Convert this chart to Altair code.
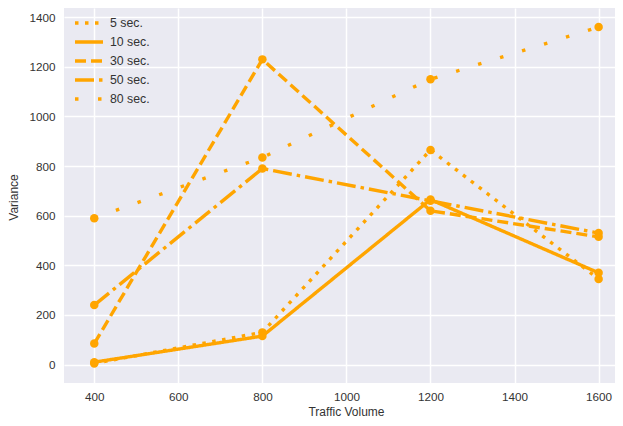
import altair as alt
import pandas as pd

volumes = [400, 800, 1200, 1600]
series = ["5 sec.", "10 sec.", "30 sec.", "50 sec.", "80 sec."]
v5 = [5, 130, 865, 345]
v10 = [10, 115, 665, 370]
v30 = [85, 1230, 620, 515]
v50 = [240, 790, 660, 530]
v80 = [590, 835, 1150, 1360]
dashes = [[3.5, 6.5], [1, 0], [11, 5], [19, 5, 3.5, 5], [3.5, 19.5]]

rows = []
for name, vals in zip(series, [v5, v10, v30, v50, v80]):
    for x, y in zip(volumes, vals):
        rows.append({"Traffic Volume": x, "Variance": y, "series": name})
df = pd.DataFrame(rows)

ORANGE = "#FFA500"
FONT = "Liberation Sans"

x = alt.X("Traffic Volume:Q",
          scale=alt.Scale(domain=[328, 1639], nice=False, zero=False),
          axis=alt.Axis(values=[400, 600, 800, 1000, 1200, 1400, 1600], format="d",
                        title="Traffic Volume", titleX=282, titleY=28,
                        titleBaseline="middle"))
y = alt.Y("Variance:Q",
          scale=alt.Scale(domain=[-74, 1437], nice=False, zero=False),
          axis=alt.Axis(values=[0, 200, 400, 600, 800, 1000, 1200, 1400], format="d",
                        title="Variance", titleX=-51, titleY=189,
                        titleBaseline="middle"))

lines = alt.Chart(df).mark_line(color=ORANGE, strokeWidth=3.4, strokeCap="butt").encode(
    x=x, y=y,
    strokeDash=alt.StrokeDash("series:N",
                              scale=alt.Scale(domain=series, range=dashes),
                              legend=alt.Legend(title=None, orient="none",
                                                legendX=16, legendY=6,
                                                symbolType="M-2,0H2",
                                                symbolStrokeColor=ORANGE,
                                                symbolStrokeWidth=3.4,
                                                symbolSize=196,
                                                labelFontSize=12.3,
                                                labelFont=FONT,
                                                labelColor="#333333",
                                                labelOffset=12,
                                                rowPadding=3)),
    detail="series:N",
)
points = alt.Chart(df).mark_circle(color=ORANGE, size=72, opacity=1).encode(
    x=x, y=y, detail="series:N")

chart = (lines + points).properties(
    width=551, height=375,
    autosize=alt.AutoSizeParams(type="none"),
    padding={"left": 56, "top": 0, "right": 0, "bottom": 35},
    background="white",
).configure_view(fill="#EAEAF2", stroke=None).configure_axis(
    grid=True, gridColor="white", gridWidth=1.5, domain=False, ticks=False,
    labelFont=FONT, labelFontSize=11.7, labelColor="#333333",
    titleFont=FONT, titleFontSize=12, titleColor="#333333", titleFontWeight="normal",
).configure_axisX(labelPadding=8).configure_axisY(labelPadding=9)

chart.save("out.html", embed_options={"renderer": "svg", "actions": False})
